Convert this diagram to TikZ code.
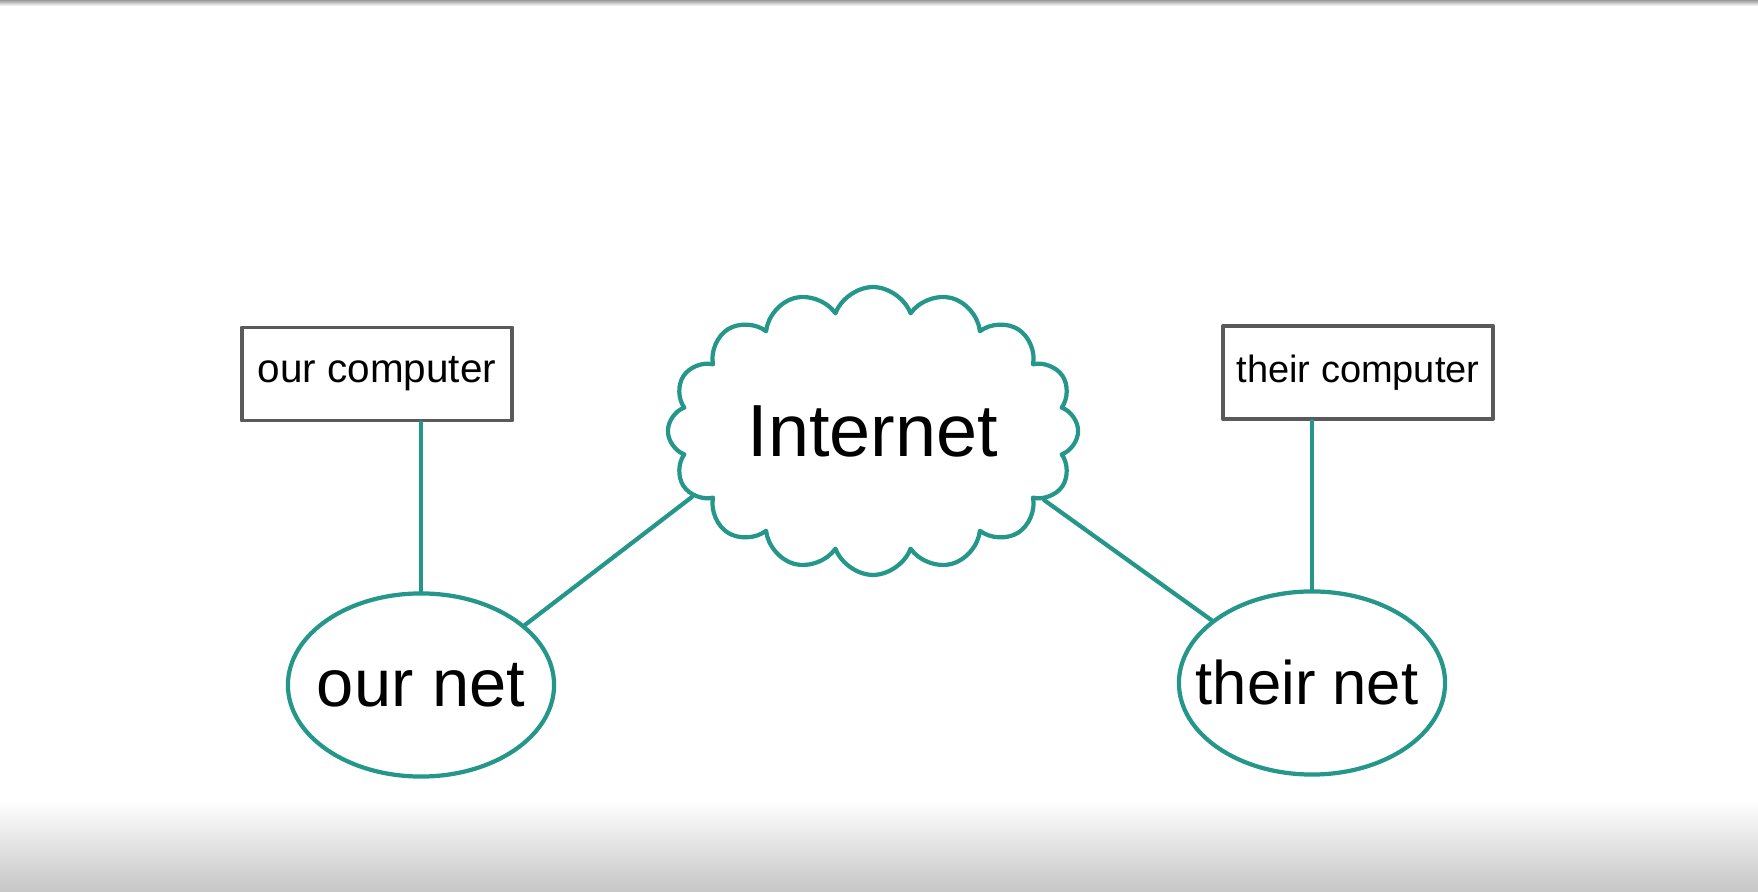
\documentclass[tikz,border=0pt]{standalone}
\usepackage{fontspec}
\setmainfont{Liberation Sans}
\usepackage{tikz}
\usetikzlibrary{positioning,calc,shapes.geometric,shapes.symbols}
\definecolor{netteal}{HTML}{24978A}
\definecolor{boxgray}{HTML}{5A5A5A}
\definecolor{shadegray}{HTML}{C6C6C6}
\definecolor{edgegray}{HTML}{9A9A9A}

\begin{document}
\begin{tikzpicture}[
    x=0.01cm,y=-0.01cm,
    line cap=round,
    line join=round,
    hostbox/.style={draw=boxgray, line width=1.1pt, fill=white, minimum width=2.70cm, minimum height=0.93cm, inner sep=2pt, font=\fontsize{11.5}{13}\selectfont},
    netblob/.style={ellipse, draw=netteal, line width=1.2pt, fill=white, minimum width=2.66cm, minimum height=1.83cm, inner sep=0pt},
    netlabel/.style={font=\fontsize{19}{22}\selectfont, inner sep=0pt},
    netcloud/.style={cloud, cloud puffs=16, cloud puff arc=140, aspect=1.45, draw=netteal, line width=1.2pt, fill=white, minimum width=4.1cm, minimum height=2.85cm, inner sep=0pt, font=\fontsize{21}{24}\selectfont},
    link/.style={draw=netteal, line width=1.2pt}
]

% Frame
\useasboundingbox (0,0) rectangle (1758,892);
\fill[white] (0,0) rectangle (1758,892);
\shade[top color=edgegray, bottom color=white] (0,0) rectangle (1758,6);
\shade[top color=white, bottom color=shadegray] (0,800) rectangle (1758,892);

% Computers
\node[hostbox] (ourcomp)   at (377,374)   {our computer};
\node[hostbox, font=\fontsize{10.8}{13}\selectfont] (theircomp) at (1358,372.5) {their computer};

% Networks
\node[netblob, label={[netlabel]center:our net}] (ournet) at (421,685) {};
\node[netblob, label={[netlabel, font=\fontsize{17.5}{21}\selectfont, xshift=-0.05cm]center:their net}] (theirnet) at (1312,683) {};
\node[netcloud] (internet) at (873,431) {Internet};

% Links
\draw[link] (ournet.30) -- (internet.200);
\draw[link] (theirnet.148) -- (internet.-22);
\draw[link] (ournet.north) -- (ournet.north |- ourcomp.south);
\draw[link] (theirnet.north) -- (theirnet.north |- theircomp.south);

\end{tikzpicture}
\end{document}
